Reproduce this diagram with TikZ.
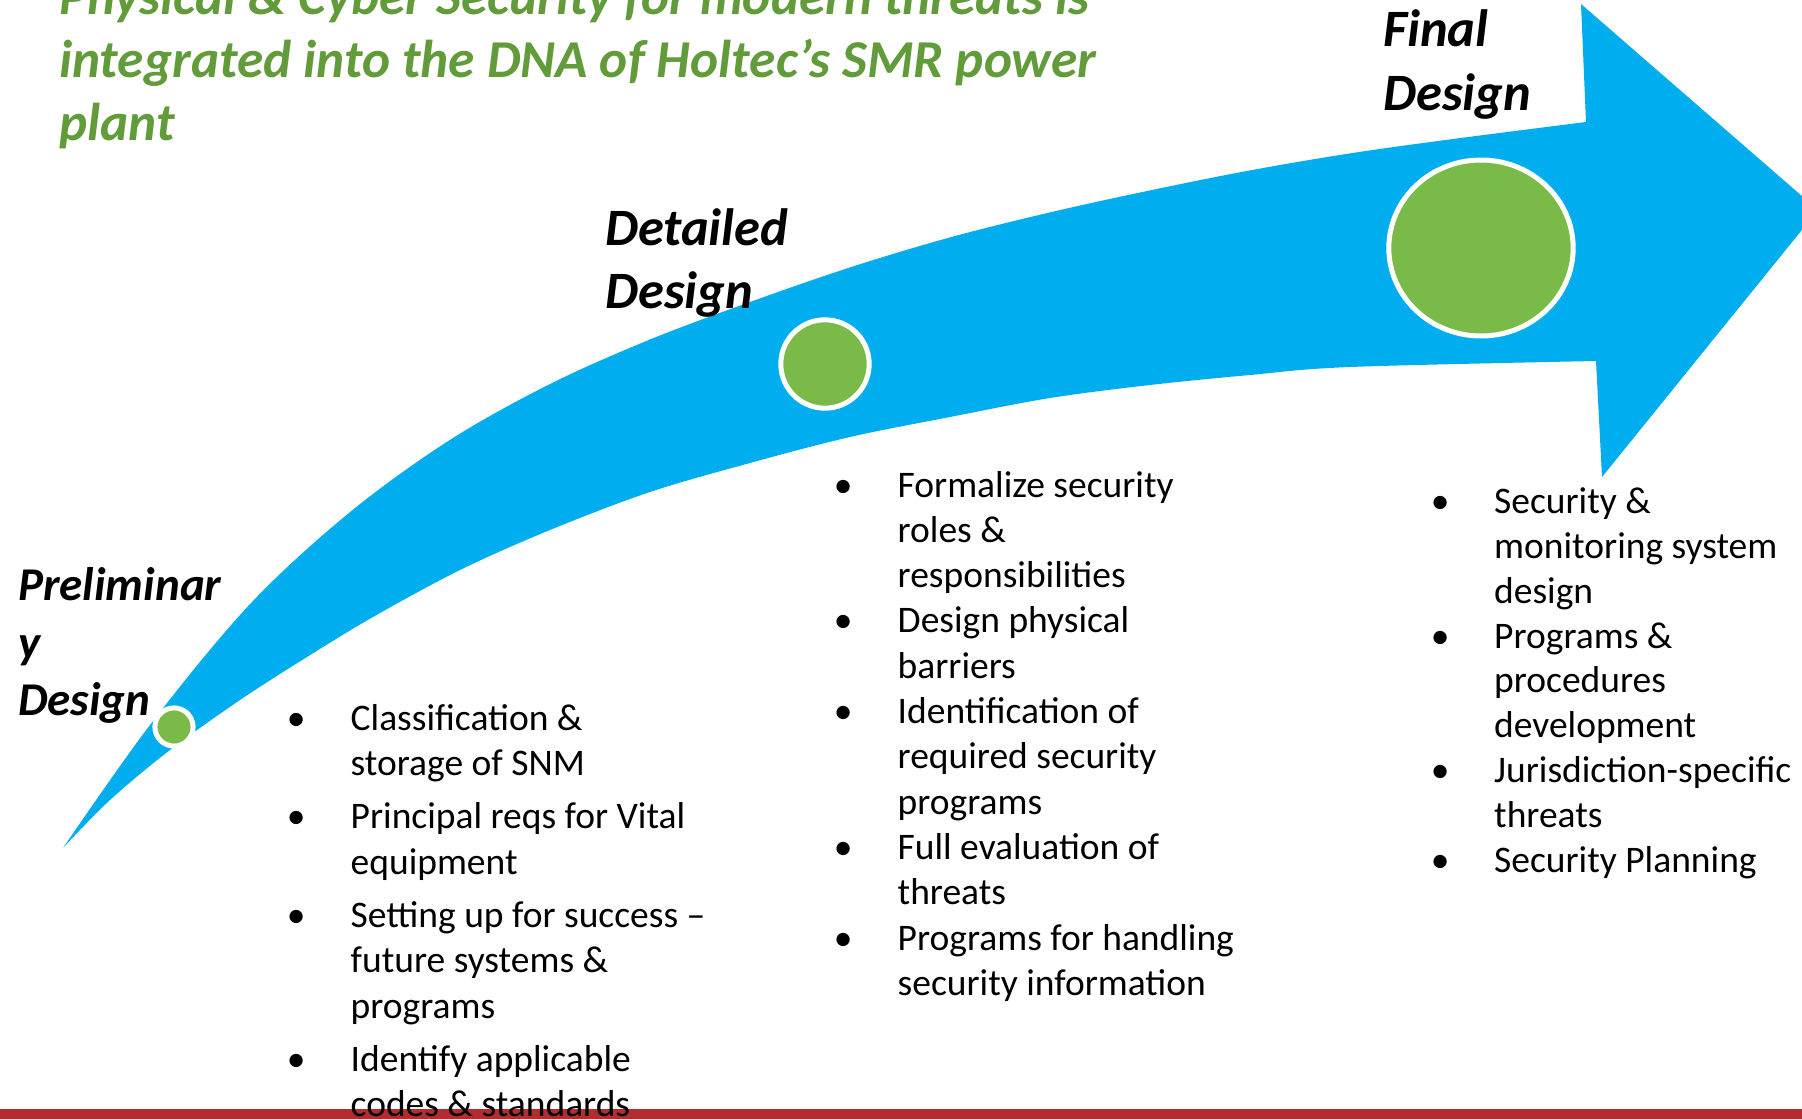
\documentclass[tikz,border=0pt]{standalone}
\usepackage{fontspec}
\setmainfont{Carlito}
\usetikzlibrary{shapes.geometric}
\definecolor{arrowblue}{HTML}{00AEEF}
\definecolor{dotgreen}{HTML}{7ABA48}
\definecolor{titlegreen}{HTML}{629B3A}
\definecolor{barred}{HTML}{B22D30}
% one line of a bulleted list: with a bullet, or continuing the item
\newlength\bulletgap
\setlength\bulletgap{54.5pt}
\newcommand\firstrow[1]{\hbox{\makebox[0pt]{•}\hskip\bulletgap\relax #1}}
\newcommand\morerow[1]{\hbox{\hskip\bulletgap\relax #1}}
\begin{document}
\begin{tikzpicture}[x=1pt,y=-1pt,
  headline/.style={anchor=base west, inner sep=0pt, text=titlegreen,
    font=\fontsize{53.3}{63}\selectfont\bfseries\itshape},
  phase/.style={anchor=base west, inner sep=0pt, text=black,
    font=\fontsize{52.5}{63}\selectfont\bfseries\itshape},
  bullets/.style={anchor=base west, inner sep=0pt, text=black,
    font=\fontsize{37.5}{45}\selectfont},
  milestone/.style={circle, fill=dotgreen, draw=white, line width=5pt, inner sep=0pt},
  bigmilestone/.style={ellipse, fill=dotgreen, draw=white, line width=5pt, inner sep=0pt}]
\useasboundingbox (0,0) rectangle (1802,1119);
\clip (0,0) rectangle (1802,1119);

% curved progress arrow
\fill[arrowblue]
  plot[smooth, tension=0.55] coordinates {(63,848) (150,725) (250,604.1)
    (350,512.1) (450,439.9) (550,384) (650,339.5) (750,302) (850,267.4)
    (950,237.4) (1050,212.4) (1150,190.4) (1250,170.4) (1350,153.4)
    (1450,139.4) (1586,122)}
  -- (1581,4) -- (1818,210) -- (1602,477)
  -- plot[smooth, tension=0.55] coordinates {(1596,361) (1350,367) (1250,375)
    (1150,385) (1050,398) (950,417) (850,437) (750,463) (650,492) (550,530)
    (460,570) (373,617) (307,657) (240,700) (170,750) (110,800) (63,848)}
  -- cycle;

% milestones along the arrow
\node[milestone, minimum size=38.2pt] (m1) at (174,727) {};
\node[milestone, minimum size=88.4pt] (m2) at (825,364) {};
\node[bigmilestone, minimum width=184.4pt, minimum height=176pt] (m3) at (1481,248) {};

% footer bar
\fill[barred] (0,1109) rectangle (1802,1119);

% heading
\node[headline] (head) at (59,14.5) {\vtop{\baselineskip=63pt
  \hbox{Physical \& Cyber Security for modern threats is}
  \hbox{integrated into the DNA of Holtec’s SMR power}
  \hbox{plant}}};

% phase labels
\node[phase, font=\fontsize{47}{57}\selectfont\bfseries\itshape] (prelim) at (18,600.7) {\vtop{\baselineskip=57.3pt
  \hbox{Preliminar}\hbox{y}\hbox{Design}}};
\node[phase] (detailed) at (605,245) {\vtop{\baselineskip=63pt
  \hbox{Detailed}\hbox{Design}}};
\node[phase] (final) at (1383,46) {\vtop{\baselineskip=64pt
  \hbox{Final}\hbox{Design}}};

% task lists
\node[bullets] (listA) at (296,730) {\vtop{\baselineskip=45.5pt
  \firstrow{Classification \&}\morerow{storage of SNM}
  \vskip7.5pt
  \firstrow{Principal reqs for Vital}\morerow{equipment}
  \vskip7.5pt
  \firstrow{Setting up for success –}\morerow{future systems \&}\morerow{programs}
  \vskip7.5pt
  \firstrow{Identify applicable}\morerow{codes \& standards}}};

\node[bullets] (listB) at (843,497) {\vtop{\baselineskip=45.3pt
  \firstrow{Formalize security}\morerow{roles \&}\morerow{responsibilities}
  \firstrow{Design physical}\morerow{barriers}
  \firstrow{Identification of}\morerow{required security}\morerow{programs}
  \firstrow{Full evaluation of}\morerow{threats}
  \firstrow{Programs for handling}\morerow{security information}}};

\node[bullets] (listC) at (1440,513.3) {\vtop{\baselineskip=44.9pt
  \setlength\bulletgap{54pt}%
  \firstrow{Security \&}\morerow{monitoring system}\morerow{design}
  \firstrow{Programs \&}\morerow{procedures}\morerow{development}
  \firstrow{Jurisdiction-specific}\morerow{threats}
  \firstrow{Security Planning}}};
\end{tikzpicture}
\end{document}
